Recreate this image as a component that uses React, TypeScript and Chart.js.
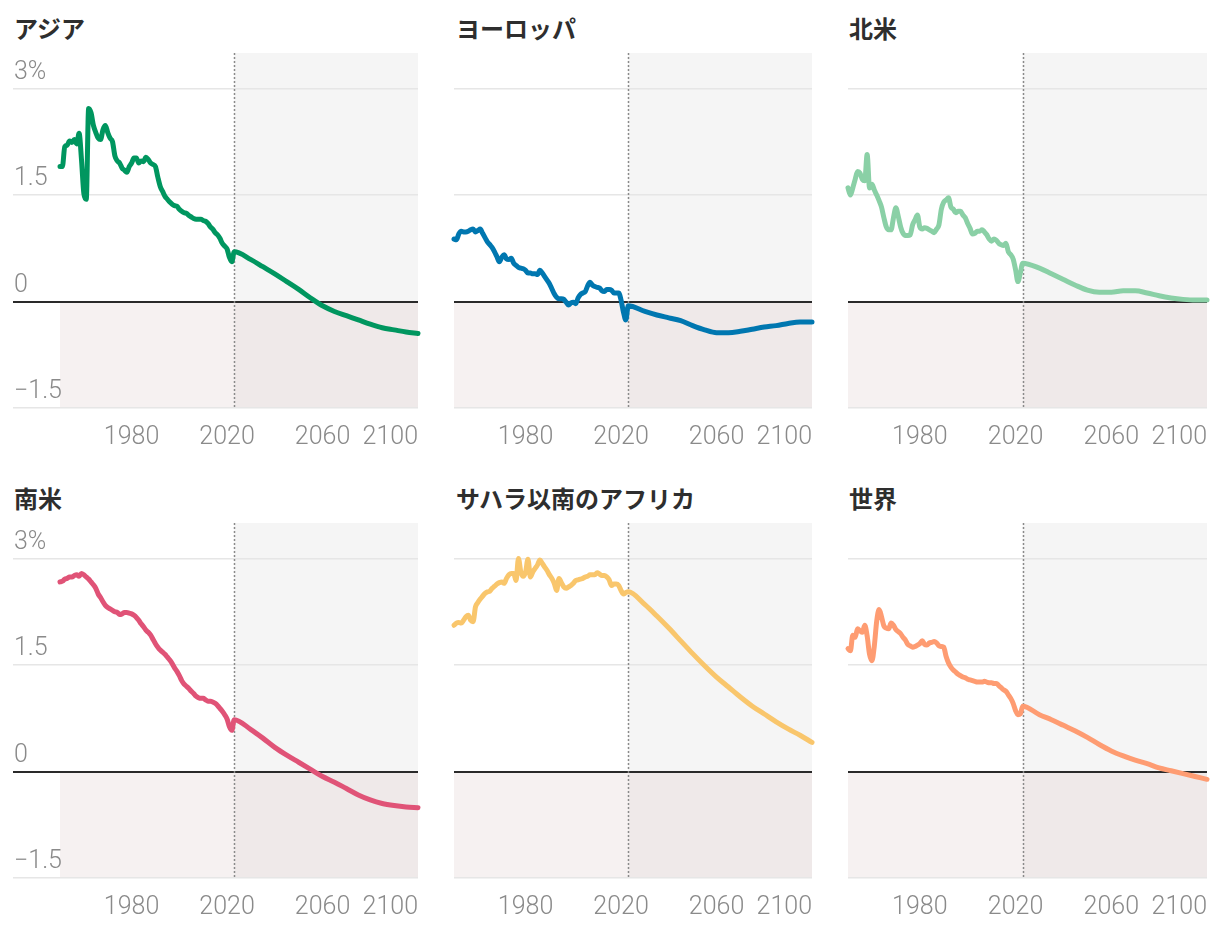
import React, { useEffect, useRef } from 'react';
import { Chart, registerables } from 'chart.js';

Chart.register(...registerables);

// ---- data ----
const years = [
  1950, 1951, 1952, 1953, 1954, 1955, 1956, 1957, 1958, 1959,
  1960, 1961, 1962, 1963, 1964, 1965, 1966, 1967, 1968, 1969,
  1970, 1971, 1972, 1973, 1974, 1975, 1976, 1977, 1978, 1979,
  1980, 1981, 1982, 1983, 1984, 1985, 1986, 1987, 1988, 1989,
  1990, 1991, 1992, 1993, 1994, 1995, 1996, 1997, 1998, 1999,
  2000, 2001, 2002, 2003, 2004, 2005, 2006, 2007, 2008, 2009,
  2010, 2011, 2012, 2013, 2014, 2015, 2016, 2017, 2018, 2019,
  2020, 2021, 2022, 2023,
  2030, 2035, 2040, 2045, 2050, 2055, 2060, 2065, 2070, 2075, 2080, 2085, 2090, 2095, 2100,
];

const asiaValues = [
  1.90, 1.90, 2.18, 2.20, 2.26, 2.24, 2.28, 2.22, 2.37, 2.00,
  1.52, 1.44, 2.72, 2.66, 2.48, 2.38, 2.30, 2.28, 2.42, 2.48,
  2.38, 2.30, 2.25, 2.05, 1.98, 1.95, 1.88, 1.85, 1.82, 1.90,
  1.95, 2.02, 2.02, 1.95, 1.98, 1.97, 2.03, 2.00, 1.95, 1.93,
  1.90, 1.75, 1.62, 1.55, 1.48, 1.44, 1.40, 1.37, 1.35, 1.34,
  1.30, 1.27, 1.25, 1.24, 1.21, 1.19, 1.17, 1.16, 1.16, 1.16,
  1.14, 1.13, 1.10, 1.05, 1.02, 0.97, 0.94, 0.89, 0.82, 0.78,
  0.74, 0.62, 0.56, 0.70,
  0.59, 0.49, 0.39, 0.28, 0.17, 0.05, -0.06, -0.14, -0.20, -0.26, -0.32, -0.37, -0.40, -0.43, -0.45,
];

const europeValues = [
  0.88, 0.87, 0.95, 0.99, 0.98, 0.98, 0.99, 1.01, 1.02, 0.98,
  1.00, 1.02, 0.96, 0.90, 0.84, 0.80, 0.76, 0.70, 0.63, 0.56,
  0.62, 0.66, 0.60, 0.59, 0.61, 0.54, 0.51, 0.48, 0.47, 0.46,
  0.44, 0.40, 0.40, 0.39, 0.39, 0.38, 0.44, 0.40, 0.35, 0.30,
  0.25, 0.18, 0.11, 0.06, 0.04, 0.04, 0.03, -0.01, -0.05, -0.02,
  -0.01, -0.03, 0.05, 0.10, 0.12, 0.14, 0.22, 0.27, 0.23, 0.21,
  0.20, 0.19, 0.15, 0.14, 0.17, 0.17, 0.16, 0.12, 0.12, 0.12,
  0.02, -0.15, -0.26, -0.06,
  -0.14, -0.19, -0.23, -0.27, -0.34, -0.40, -0.44, -0.44, -0.42, -0.39, -0.36, -0.34, -0.31, -0.29, -0.29,
];

const northAmericaValues = [
  1.60, 1.50, 1.60, 1.72, 1.83, 1.81, 1.72, 1.70, 2.07, 1.60,
  1.65, 1.57, 1.50, 1.42, 1.33, 1.18, 1.05, 1.01, 1.01, 1.18,
  1.32, 1.20, 1.05, 0.96, 0.93, 0.93, 0.94, 1.08, 1.15, 1.22,
  1.05, 1.02, 1.04, 1.03, 1.01, 0.99, 0.97, 1.02, 1.08, 1.30,
  1.40, 1.43, 1.46, 1.33, 1.30, 1.25, 1.27, 1.27, 1.22, 1.18,
  1.10, 1.03, 0.95, 0.96, 0.99, 0.99, 1.01, 0.98, 0.94, 0.88,
  0.85, 0.88, 0.86, 0.82, 0.80, 0.79, 0.82, 0.70, 0.66, 0.60,
  0.45, 0.28, 0.40, 0.54,
  0.47, 0.39, 0.31, 0.23, 0.16, 0.13, 0.13, 0.15, 0.15, 0.12, 0.08, 0.05, 0.03, 0.02, 0.02,
];

const southAmericaValues = [
  2.67, 2.68, 2.71, 2.72, 2.74, 2.74, 2.76, 2.77, 2.75, 2.79,
  2.77, 2.74, 2.71, 2.67, 2.63, 2.58, 2.50, 2.45, 2.39, 2.34,
  2.31, 2.29, 2.27, 2.25, 2.24, 2.21, 2.22, 2.24, 2.24, 2.23,
  2.22, 2.20, 2.17, 2.13, 2.08, 2.04, 1.99, 1.96, 1.92, 1.86,
  1.80, 1.75, 1.71, 1.68, 1.65, 1.61, 1.57, 1.52, 1.46, 1.41,
  1.35, 1.28, 1.23, 1.20, 1.17, 1.13, 1.10, 1.06, 1.04, 1.03,
  1.03, 1.01, 0.99, 0.99, 0.98, 0.96, 0.93, 0.89, 0.85, 0.80,
  0.74, 0.63, 0.58, 0.73,
  0.59, 0.47, 0.34, 0.23, 0.13, 0.03, -0.07, -0.15, -0.24, -0.33, -0.40, -0.45, -0.48, -0.50, -0.51,
];

const subSaharanValues = [
  2.06, 2.09, 2.10, 2.09, 2.13, 2.18, 2.20, 2.13, 2.11, 2.32,
  2.38, 2.43, 2.47, 2.51, 2.53, 2.54, 2.58, 2.61, 2.64, 2.66,
  2.67, 2.65, 2.72, 2.77, 2.79, 2.79, 2.69, 3.00, 2.81, 2.75,
  2.81, 2.99, 2.74, 2.81, 2.86, 2.91, 2.98, 2.93, 2.88, 2.83,
  2.77, 2.72, 2.65, 2.55, 2.72, 2.66, 2.60, 2.58, 2.60, 2.62,
  2.65, 2.69, 2.70, 2.71, 2.72, 2.74, 2.75, 2.77, 2.77, 2.77,
  2.80, 2.78, 2.76, 2.76, 2.74, 2.70, 2.62, 2.64, 2.64, 2.62,
  2.55, 2.50, 2.52, 2.53,
  2.35, 2.19, 2.02, 1.84, 1.66, 1.49, 1.33, 1.19, 1.05, 0.92, 0.81, 0.70, 0.60, 0.51, 0.41,
];

const worldValues = [
  1.73, 1.70, 1.92, 1.89, 2.01, 1.98, 1.96, 2.06, 1.91, 1.65,
  1.56, 1.77, 2.12, 2.28, 2.18, 2.05, 2.02, 2.01, 2.09, 2.06,
  2.00, 1.97, 1.94, 1.89, 1.85, 1.79, 1.77, 1.75, 1.76, 1.78,
  1.80, 1.84, 1.79, 1.78, 1.81, 1.82, 1.83, 1.81, 1.77, 1.76,
  1.75, 1.62, 1.53, 1.47, 1.43, 1.40, 1.37, 1.35, 1.33, 1.32,
  1.30, 1.29, 1.28, 1.27, 1.26, 1.26, 1.26, 1.27, 1.26, 1.25,
  1.25, 1.24, 1.24, 1.21, 1.18, 1.15, 1.13, 1.08, 1.03, 0.96,
  0.86, 0.80, 0.81, 0.92,
  0.80, 0.73, 0.65, 0.57, 0.48, 0.38, 0.29, 0.22, 0.16, 0.11, 0.05, 0.01, -0.03, -0.07, -0.11,
];

const panelTitles = ['アジア', 'ヨーロッパ', '北米', '南米', 'サハラ以南のアフリカ', '世界'];
const panelColors = ['#00965f', '#0077b0', '#8ad0a6', '#e05377', '#f9c66c', '#fe9c72'];
const panelSeries = [asiaValues, europeValues, northAmericaValues, southAmericaValues, subSaharanValues, worldValues];

const yTickValues = [-1.5, 0, 1.5, 3];
const yTickLabels = ['−1.5', '0', '1.5', '3%'];
const xTickValues = [1980, 2020, 2060, 2100];

const X_START = 1950;
const X_END = 2100;
const PROJECTION_START = 2023;
const Y_MIN = -1.5;
const Y_MAX = 3.5;

// ---- layout ----
const COL_LEFT = [13, 454, 848];
const COL_WIDTH = [405, 358, 359];
const LABEL_GUTTER = 47; // first column: space for y labels left of 1950
const ROW_TOP = [53, 523];
const PLOT_H = 355;
const PAD_L = 12;
const PAD_R = 12;
const PAD_T = 20;
const PAD_B = 5;
const XAXIS_H = 45;
const TITLE_LEFT = [14, 456, 849];
const TITLE_TOP = [16, 486];

const tickFont = { family: "Roboto, 'Liberation Sans', sans-serif", size: 25, weight: '300' as any };

const bandsPlugin = {
  id: 'bands',
  beforeDraw(chart: any) {
    const { ctx, scales } = chart;
    const x = scales.x;
    const y = scales.y;
    const x0 = x.getPixelForValue(X_START);
    const x1 = x.getPixelForValue(PROJECTION_START);
    const x2 = x.getPixelForValue(X_END);
    const yTop = y.getPixelForValue(Y_MAX);
    const yZero = y.getPixelForValue(0);
    const yBot = y.getPixelForValue(Y_MIN);
    ctx.save();
    ctx.fillStyle = '#f5f5f5';
    ctx.fillRect(x1, yTop, x2 - x1, yZero - yTop);
    ctx.fillStyle = '#f6f1f1';
    ctx.fillRect(x0, yZero, x1 - x0, yBot - yZero);
    ctx.fillStyle = '#efe9e9';
    ctx.fillRect(x1, yZero, x2 - x1, yBot - yZero);
    ctx.restore();
  },
  beforeDatasetsDraw(chart: any) {
    const { ctx, scales } = chart;
    const px = Math.round(scales.x.getPixelForValue(PROJECTION_START)) + 0.5;
    const yTop = scales.y.getPixelForValue(Y_MAX);
    const yBot = scales.y.getPixelForValue(Y_MIN);
    ctx.save();
    ctx.strokeStyle = '#8a8a8a';
    ctx.lineWidth = 1.5;
    ctx.setLineDash([2, 2]);
    ctx.beginPath();
    ctx.moveTo(px, yTop);
    ctx.lineTo(px, yBot + 1);
    ctx.stroke();
    ctx.restore();
  },
};

function Panel({ index }: { index: number }) {
  const ref = useRef<HTMLCanvasElement | null>(null);
  const col = index % 3;
  const row = Math.floor(index / 3);
  const showY = col === 0;
  const chartW = COL_WIDTH[col];
  const canvasW = chartW + PAD_L + PAD_R;
  const canvasH = PAD_T + PLOT_H + XAXIS_H + PAD_B;
  const xMin = showY ? X_START - ((X_END - X_START) * LABEL_GUTTER) / (chartW - LABEL_GUTTER) : X_START;

  useEffect(() => {
    if (!ref.current) return;
    const values = panelSeries[index];
    const chart = new Chart(ref.current, {
      type: 'line',
      data: {
        datasets: [
          {
            data: years.map((yr, i) => ({ x: yr, y: values[i] })),
            borderColor: panelColors[index],
            borderWidth: 5,
            pointRadius: 0,
            cubicInterpolationMode: 'monotone',
            borderCapStyle: 'round',
            borderJoinStyle: 'round',
            fill: false,
            clip: false as any,
          } as any,
        ],
      },
      options: {
        animation: false,
        responsive: false,
        devicePixelRatio: 1,
        layout: { padding: { top: PAD_T, left: PAD_L, right: PAD_R, bottom: PAD_B } },
        plugins: { legend: { display: false }, tooltip: { enabled: false } },
        events: [],
        scales: {
          x: {
            type: 'linear',
            min: xMin,
            max: X_END,
            grid: { display: false },
            border: { display: false },
            afterBuildTicks: (s: any) => {
              s.ticks = [xMin, ...xTickValues].map((v) => ({ value: v }));
            },
            afterFit: (s: any) => {
              s.height = XAXIS_H;
            },
            ticks: {
              align: 'inner',
              autoSkip: false,
              maxRotation: 0,
              padding: 7,
              color: '#8a8a8a',
              font: tickFont,
              callback: (v: any) => (xTickValues.includes(v) ? String(v) : ''),
            },
          } as any,
          y: {
            type: 'linear',
            min: Y_MIN,
            max: Y_MAX,
            border: { display: false },
            afterBuildTicks: (s: any) => {
              s.ticks = yTickValues.map((v) => ({ value: v }));
            },
            afterFit: (s: any) => {
              s.width = 0;
            },
            grid: {
              drawTicks: false,
              color: (c: any) => (c.tick && c.tick.value === 0 ? '#2a2a2a' : '#e6e6e6'),
              lineWidth: (c: any) => (c.tick && c.tick.value === 0 ? 2 : 1.5),
            },
            ticks: {
              display: showY,
              mirror: true,
              padding: 1,
              labelOffset: -16,
              color: '#8a8a8a',
              font: tickFont,
              callback: (v: any) => {
                const k = yTickValues.indexOf(v);
                return k >= 0 ? yTickLabels[k] : '';
              },
            },
          } as any,
        },
      },
      plugins: [bandsPlugin],
    });
    return () => chart.destroy();
  }, [index]);

  return (
    <>
      <div
        style={{
          position: 'absolute',
          left: TITLE_LEFT[col],
          top: TITLE_TOP[row],
          font: "bold 24px 'Noto Sans CJK JP', sans-serif",
          lineHeight: '24px',
          color: '#2e2e2e',
          whiteSpace: 'nowrap',
        }}
      >
        {panelTitles[index]}
      </div>
      <canvas
        ref={ref}
        width={canvasW}
        height={canvasH}
        style={{
          position: 'absolute',
          left: COL_LEFT[col] - PAD_L,
          top: ROW_TOP[row] - PAD_T,
          width: canvasW,
          height: canvasH,
        }}
      />
    </>
  );
}

export default function App() {
  return (
    <div
      style={{
        position: 'fixed',
        left: 0,
        top: 0,
        width: 1220,
        height: 932,
        background: '#ffffff',
        overflow: 'hidden',
      }}
    >
      {panelTitles.map((_, i) => (
        <Panel key={i} index={i} />
      ))}
    </div>
  );
}
